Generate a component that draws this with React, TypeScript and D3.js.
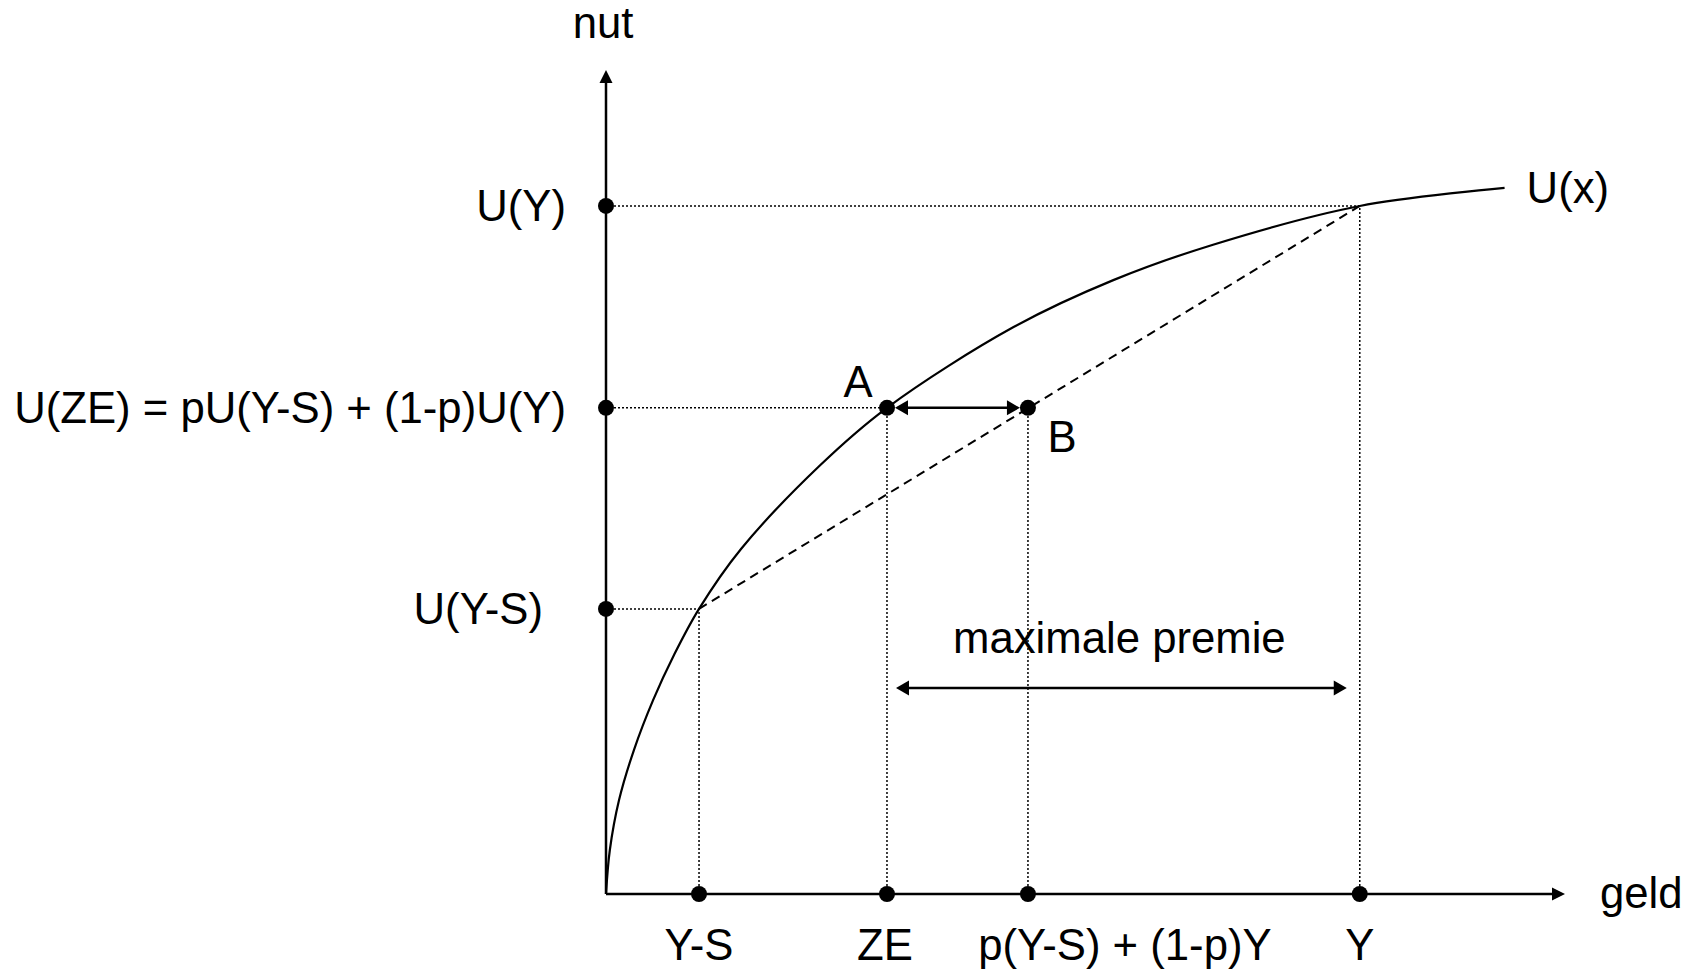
import * as d3 from 'd3';

// money (x) and utility (y) in arbitrary units
const curveMoney = [0, 0.4, 1.36, 2.92, 4.9, 7.09, 9.7, 14.1, 22.3, 29.3, 42.5, 52.9, 63.3, 78.6, 93.7];
const curveUtility = [0, 5.34, 11.4, 17.5, 23.5, 29.0, 34.6, 41.9, 52.0, 59.0, 68.8, 74.5, 78.8, 83.5, 85.7];

const moneyLabels = ['Y-S', 'ZE', 'p(Y-S) + (1-p)Y', 'Y'];
const moneyValues = [9.7, 29.3, 44.0, 78.6];

const utilityLabels = ['U(Y)', 'U(ZE) = pU(Y-S) + (1-p)U(Y)', 'U(Y-S)'];
const utilityValues = [83.5, 59.0, 34.6];

const premieLevel = 25.0;

const W = 1696;
const H = 973;
const font = '"Liberation Sans", Arial, sans-serif';
const fs = 43.7;

export default function App() {
  const x = d3.scaleLinear().domain([0, 100]).range([606, 1565]);
  const y = d3.scaleLinear().domain([0, 100]).range([894, 70]);

  const x0 = x(0);
  const y0 = y(0);

  const pts: [number, number][] = curveMoney.map((m, i) => [m, curveUtility[i]]);
  const line = d3
    .line<[number, number]>()
    .x(d => x(d[0]))
    .y(d => y(d[1]))
    .curve(d3.curveCatmullRom.alpha(0.5));

  const [ysX, zeX, bX, yX] = moneyValues;
  const [uY, uZE, uYS] = utilityValues;

  // straight line between (Y-S, U(Y-S)) and (Y, U(Y))
  const dashed = d3.line<[number, number]>().x(d => x(d[0])).y(d => y(d[1]));

  const dots: [number, number][] = [
    [0, uY], [0, uZE], [0, uYS],
    [ysX, 0], [zeX, 0], [bX, 0], [yX, 0],
    [zeX, uZE], [bX, uZE],
  ];

  const dotted = { stroke: '#000', strokeWidth: 1.5, strokeDasharray: '2 2', fill: 'none' };

  const head = (tx: number, ty: number, dir: 'l' | 'r' | 'u', len = 13, hw = 7.5) => {
    if (dir === 'r') return `M${tx},${ty} L${tx - len},${ty - hw} L${tx - len},${ty + hw} Z`;
    if (dir === 'l') return `M${tx},${ty} L${tx + len},${ty - hw} L${tx + len},${ty + hw} Z`;
    return `M${tx},${ty} L${tx - hw},${ty + len} L${tx + hw},${ty + len} Z`;
  };

  const abY = y(uZE);
  const abL = x(zeX) + 8;
  const abR = x(bX) - 8;
  const mpY = y(premieLevel);
  const mpL = x(zeX) + 9;
  const mpR = x(yX) - 13;

  const utilRight = [x0 - 40, x0 - 40, x0 - 63];
  const moneyDx = [0, -2, 97, 0];
  const end = pts[pts.length - 1];

  return (
    <svg
      width={W}
      height={H}
      style={{ position: 'absolute', left: 0, top: 0, background: '#fff' }}
      fontFamily={font}
      fontSize={fs}
    >
      {/* guide lines */}
      <line x1={x0} x2={x(yX)} y1={y(uY)} y2={y(uY)} {...dotted} />
      <line x1={x0} x2={x(zeX)} y1={y(uZE)} y2={y(uZE)} {...dotted} />
      <line x1={x0} x2={x(ysX)} y1={y(uYS)} y2={y(uYS)} {...dotted} />
      <line x1={x(ysX)} x2={x(ysX)} y1={y0} y2={y(uYS)} {...dotted} />
      <line x1={x(zeX)} x2={x(zeX)} y1={y0} y2={y(uZE)} {...dotted} />
      <line x1={x(bX)} x2={x(bX)} y1={y0} y2={y(uZE)} {...dotted} />
      <line x1={x(yX)} x2={x(yX)} y1={y0} y2={y(uY)} {...dotted} />

      <path
        d={dashed([[ysX, uYS], [yX, uY]]) ?? ''}
        fill="none"
        stroke="#000"
        strokeWidth={2}
        strokeDasharray="9 6"
      />

      <path d={line(pts) ?? ''} fill="none" stroke="#000" strokeWidth={2.2} />

      {/* axes */}
      <line x1={x0} x2={x0} y1={y0} y2={y(100) + 10} stroke="#000" strokeWidth={2.5} />
      <path d={head(x0, y(100), 'u', 13, 6.5)} fill="#000" />
      <line x1={x0} x2={x(100) - 10} y1={y0} y2={y0} stroke="#000" strokeWidth={2.5} />
      <path d={head(x(100), y0, 'r', 13, 6.5)} fill="#000" />

      {/* A-B arrow */}
      <line x1={abL + 10} x2={abR - 10} y1={abY} y2={abY} stroke="#000" strokeWidth={2.5} />
      <path d={head(abL, abY, 'l')} fill="#000" />
      <path d={head(abR, abY, 'r')} fill="#000" />

      {/* maximale premie arrow */}
      <line x1={mpL + 10} x2={mpR - 10} y1={mpY} y2={mpY} stroke="#000" strokeWidth={2.5} />
      <path d={head(mpL, mpY, 'l')} fill="#000" />
      <path d={head(mpR, mpY, 'r')} fill="#000" />

      {dots.map((d, i) => (
        <circle key={i} cx={x(d[0])} cy={y(d[1])} r={8} fill="#000" />
      ))}

      {/* labels */}
      <text x={x0 - 3} y={38} textAnchor="middle">nut</text>
      <text x={x(100) + 35} y={y0 + 14}>geld</text>
      <text x={x(end[0]) + 22} y={y(end[1]) + 15}>U(x)</text>
      <text x={x(zeX) - 29} y={y(uZE) - 11} textAnchor="middle">A</text>
      <text x={x(bX) + 34} y={y(uZE) + 44} textAnchor="middle">B</text>
      <text x={(mpL + mpR) / 2 - 2} y={mpY - 35} textAnchor="middle">maximale premie</text>

      {utilityLabels.map((t, i) => (
        <text key={t} x={utilRight[i]} y={y(utilityValues[i]) + 15} textAnchor="end">
          {t}
        </text>
      ))}

      {moneyLabels.map((t, i) => (
        <text key={t} x={x(moneyValues[i]) + moneyDx[i]} y={y0 + 66} textAnchor="middle">
          {t}
        </text>
      ))}
    </svg>
  );
}
